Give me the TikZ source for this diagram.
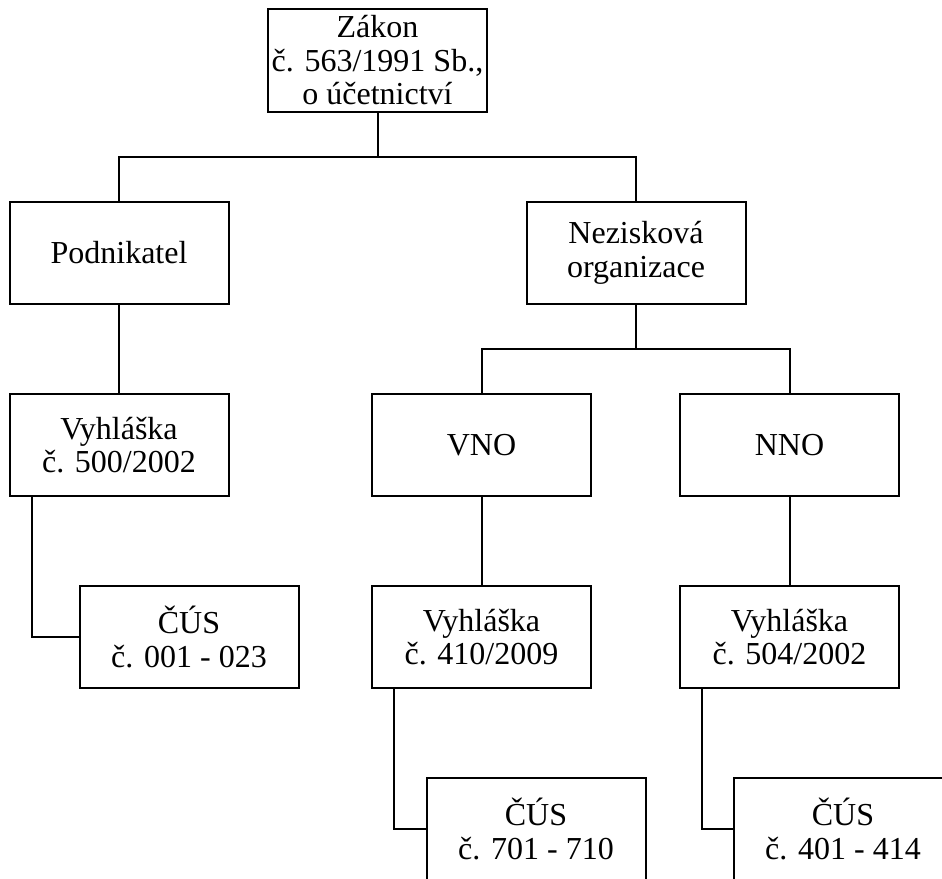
\documentclass[tikz,border=0pt]{standalone}
\usepackage{fontspec}
\setmainfont{Liberation Serif}
\begin{document}
\begin{tikzpicture}[x=1pt,y=-1pt,
  box/.style={draw=black,line width=2pt,fill=white,minimum width=219pt,minimum height=102pt,inner sep=0pt,align=center,font=\fontsize{32}{33.5}\selectfont},
  link/.style={draw=black,line width=2pt}]
\useasboundingbox (0,0) rectangle (942,878);
\node[box,minimum height=103pt] (zakon) at (377.5,60.5) {Zákon\\č. 563/1991 Sb.,\\o účetnictví};
\node[box] (pod) at (119,253) {Podnikatel};
\node[box] (nez) at (636,253) {Nezisková\\organizace};
\node[box] (v500) at (119,445) {Vyhláška\\č. 500/2002};
\node[box] (vno) at (481.5,445) {VNO};
\node[box] (nno) at (789.5,445) {NNO};
\node[box] (c001) at (189,637) {ČÚS\\č. 001 - 023};
\node[box] (v410) at (481.5,637) {Vyhláška\\č. 410/2009};
\node[box] (v504) at (789.5,637) {Vyhláška\\č. 504/2002};
\node[box] (c701) at (536,829) {ČÚS\\č. 701 - 710};
\node[box] (c401) at (843,829) {ČÚS\\č. 401 - 414};
\coordinate (j1) at (377.5,157);
\coordinate (j2) at (636,349);
\draw[link] (zakon.south) -- (j1);
\draw[link] (pod.north) |- (j1) -| (nez.north);
\draw[link] (nez.south) -- (j2);
\draw[link] (vno.north) |- (j2) -| (nno.north);
\draw[link] (pod.south) -- (v500.north);
\draw[link] (vno.south) -- (v410.north);
\draw[link] (nno.south) -- (v504.north);
\draw[link] ([xshift=23pt]v500.south west) |- (c001.west);
\draw[link] ([xshift=23pt]v410.south west) |- (c701.west);
\draw[link] ([xshift=23pt]v504.south west) |- (c401.west);
\end{tikzpicture}
\end{document}
